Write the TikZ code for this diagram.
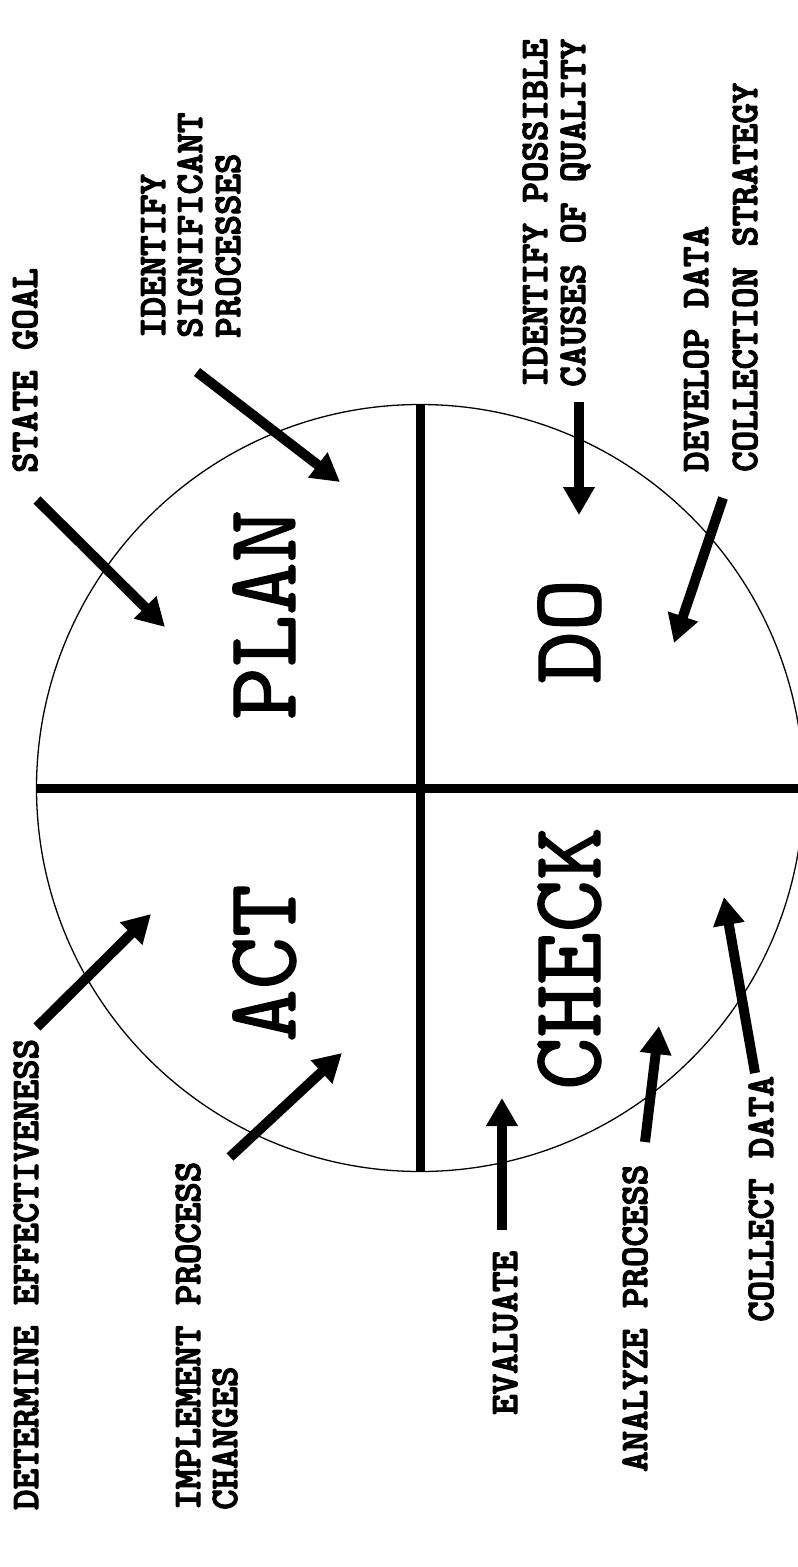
\documentclass[tikz,border=0pt]{standalone}
\usepackage{fontspec}
\usetikzlibrary{arrows.meta}
\newfontfamily\lblttfont{lmmonolt10-bold.otf}[FakeBold=3.0]
\newfontfamily\bigttfont{lmmono10-regular.otf}[FakeBold=1.3]
\tikzset{
  lbl/.style={rotate=90, anchor=base west, inner sep=0pt,
    font=\fontsize{39}{39}\selectfont\lblttfont},
  big/.style={rotate=90, anchor=base west, inner sep=0pt,
    font=\fontsize{100}{100}\selectfont\bigttfont},
  pointer/.style={line width=10pt, -{Triangle[length=28pt,width=30pt]}},
  divider/.style={line width=9pt},
  wheelstyle/.style={circle, draw, line width=1.3pt, minimum size=767pt, inner sep=0pt},
}
\begin{document}
\begin{tikzpicture}[x=1pt,y=-1pt]
\useasboundingbox (0,0) rectangle (798,1567);

% circle and dividers
\node[wheelstyle] (wheel) at (420,788) {};
\coordinate (hR) at (798,788);
\draw[divider] (wheel.west) -- (hR);
\draw[divider] (wheel.north) -- (wheel.south);

% quadrant titles
\node[big] (plan)  at (295,720)  {PLAN};
\node[big] (act)   at (295,1042) {ACT};
\node[big] (do)    at (600,684)  {DO};
\node[big] (check) at (600,1090) {CHECK};

% labels
\node[lbl] (sg)  at (37,473)  {STATE GOAL};
\node[lbl] (is1) at (165,338) {IDENTIFY};
\node[lbl] (is2) at (202,338) {SIGNIFICANT};
\node[lbl] (is3) at (240,338) {PROCESSES};
\node[lbl] (ip1) at (547,387) {IDENTIFY POSSIBLE};
\node[lbl] (ip2) at (585,387) {CAUSES OF QUALITY};
\node[lbl] (dd1) at (708,472) {DEVELOP DATA};
\node[lbl] (dd2) at (757,472) {COLLECTION STRATEGY};
\node[lbl] (de)  at (38,1510) {DETERMINE EFFECTIVENESS};
\node[lbl] (im1) at (200,1510) {IMPLEMENT PROCESS};
\node[lbl] (im2) at (237,1510) {CHANGES};
\node[lbl] (ev)  at (517,1415) {EVALUATE};
\node[lbl] (an)  at (647,1472) {ANALYZE PROCESS};
\node[lbl] (cd)  at (773,1322) {COLLECT DATA};

% arrow ends
\coordinate (sgA) at (37,500);   \coordinate (sgB) at (165,627);
\coordinate (isA) at (197,372);  \coordinate (isB) at (340,482);
\coordinate (ipA) at (579,402);  \coordinate (ipB) at (579,515);
\coordinate (ddA) at (723,498);  \coordinate (ddB) at (674,643);
\coordinate (deA) at (37,1027);  \coordinate (deB) at (151,914);
\coordinate (imA) at (230,1157); \coordinate (imB) at (342,1053);
\coordinate (evA) at (502,1230); \coordinate (evB) at (502,1098);
\coordinate (anA) at (645,1142); \coordinate (anB) at (659,1026);
\coordinate (cdA) at (755,1073); \coordinate (cdB) at (724,897);

\draw[pointer] (sgA) -- (sgB);
\draw[pointer] (isA) -- (isB);
\draw[pointer] (ipA) -- (ipB);
\draw[pointer] (ddA) -- (ddB);
\draw[pointer] (deA) -- (deB);
\draw[pointer] (imA) -- (imB);
\draw[pointer] (evA) -- (evB);
\draw[pointer] (anA) -- (anB);
\draw[pointer] (cdA) -- (cdB);
\end{tikzpicture}
\end{document}
